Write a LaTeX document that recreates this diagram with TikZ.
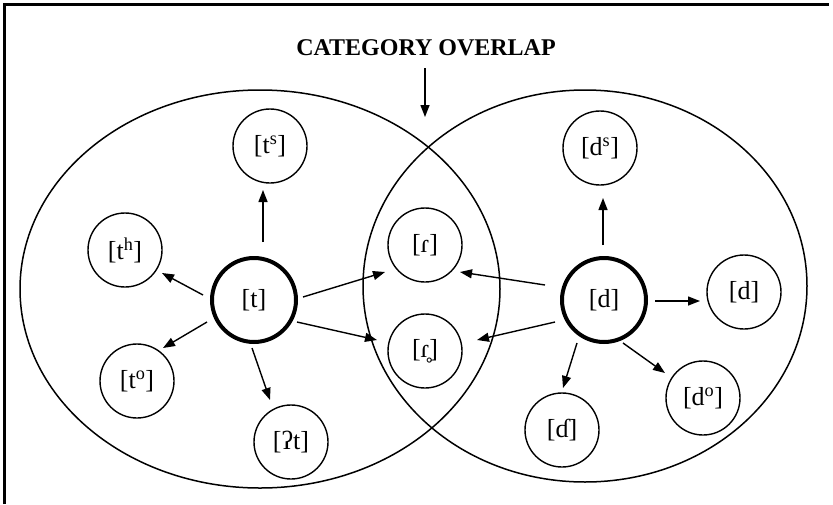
\documentclass[tikz,border=0pt]{standalone}
\usepackage{fontspec}
\setmainfont{Liberation Serif}
\usetikzlibrary{arrows.meta,shapes.geometric,calc}

\begin{document}
\begin{tikzpicture}[x=1pt,y=-1pt,
  catg/.style={ellipse,draw,line width=1.5pt,inner sep=0pt},
  snd/.style={circle,draw,line width=1.4pt,minimum size=74pt,inner sep=0pt,
    font=\fontsize{26}{28}\selectfont},
  core/.style={snd,line width=4pt,minimum size=84pt},
  arr/.style={line width=1.4pt,-{Triangle[length=12pt,width=9pt]}}
]
\useasboundingbox (0,0) rectangle (833,504);
% frame
\draw[line width=3pt] (4,504) -- (4,4) -- (829,4);

% title and its pointer to the overlap
\node[anchor=base,font=\bfseries\fontsize{24}{26}\selectfont] (title) at (426,55.5) {CATEGORY OVERLAP};
\coordinate (ovl) at (425,117);
\draw[arr] ($(title.south -| ovl)+(0,9)$) -- (ovl);

% the two categories
\node[catg,minimum width=480pt,minimum height=398pt] (catT) at (260,289) {};
\node[catg,minimum width=444pt,minimum height=392pt] (catD) at (585,286) {};

% sounds
\node[core] (nt)  at (254,300) {[t]};
\node[snd]  (nts) at (270,146) {[t\textsuperscript{s}]};
\node[snd]  (nth) at (125,250) {[t\textsuperscript{h}]};
\node[snd]  (nto) at (137,381) {[t\textsuperscript{o}]};
\node[snd]  (ngt) at (291,442) {[ʔt]};
\node[snd]  (nr)  at (425,245) {[ɾ]};
\node[snd]  (nrr) at (425,351) {[ɾ̥]};
\node[core] (nd)  at (604,300) {[d]};
\node[snd]  (nds) at (600,148) {[d\textsuperscript{s}]};
\node[snd]  (ndr) at (744,292) {[d]};
\node[snd]  (ndh) at (562,430) {[ɗ]};
\node[snd]  (ndo) at (703,398) {[d\textsuperscript{o}]};

% arrows from [t]
\draw[arr] ($(nt)+(9,-58)$)  -- ($(nts)+(-7,44)$);
\draw[arr] ($(nt)+(-51,-5)$) -- ($(nth)+(37,23)$);
\draw[arr] ($(nt)+(-47,22)$) -- ($(nto)+(26,-33)$);
\draw[arr] ($(nt)+(-2,48)$)  -- ($(ngt)+(-21,-42)$);
\draw[arr] ($(nt)+(49,-3)$)  -- ($(nr)+(-40,27)$);
\draw[arr] ($(nt)+(43,22)$)  -- ($(nrr)+(-48,-11)$);

% arrows from [d]
\draw[arr] ($(nd)+(-1,-55)$)  -- ($(nds)+(3,50)$);
\draw[arr] ($(nd)+(-59,-15)$) -- ($(nr)+(35,27)$);
\draw[arr] ($(nd)+(-49,22)$)  -- ($(nrr)+(52,-11)$);
\draw[arr] ($(nd)+(-27,43)$)  -- ($(ndh)+(1,-42)$);
\draw[arr] ($(nd)+(19,43)$)   -- ($(ndo)+(-38,-25)$);
\draw[arr] ($(nd)+(51,1)$)    -- ($(ndr)+(-44,9)$);
\end{tikzpicture}
\end{document}
